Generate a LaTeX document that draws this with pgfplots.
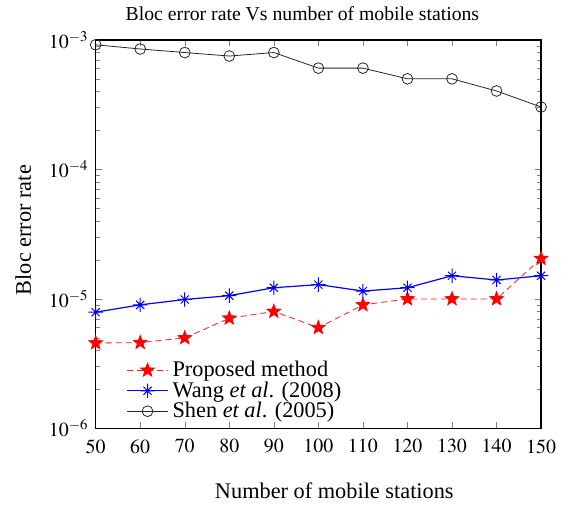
\documentclass[border=0pt]{standalone}
\usepackage{mathptmx}
\usepackage{pgfplots}
\pgfplotsset{compat=1.18}
\usepackage{fontspec}
\setmainfont{Liberation Serif}
\pgfdeclareplotmark{fstar}{%
  \pgfpathmoveto{\pgfpointpolar{90}{\pgfplotmarksize}}%
  \pgfpathlineto{\pgfpointpolar{126}{0.42\pgfplotmarksize}}%
  \pgfpathlineto{\pgfpointpolar{162}{\pgfplotmarksize}}%
  \pgfpathlineto{\pgfpointpolar{198}{0.42\pgfplotmarksize}}%
  \pgfpathlineto{\pgfpointpolar{234}{\pgfplotmarksize}}%
  \pgfpathlineto{\pgfpointpolar{270}{0.42\pgfplotmarksize}}%
  \pgfpathlineto{\pgfpointpolar{306}{\pgfplotmarksize}}%
  \pgfpathlineto{\pgfpointpolar{342}{0.42\pgfplotmarksize}}%
  \pgfpathlineto{\pgfpointpolar{18}{\pgfplotmarksize}}%
  \pgfpathlineto{\pgfpointpolar{54}{0.42\pgfplotmarksize}}%
  \pgfpathclose
  \pgfusepathqfillstroke}
\pgfdeclareplotmark{ast8}{%
  \pgfpathmoveto{\pgfqpoint{-\pgfplotmarksize}{0pt}}%
  \pgfpathlineto{\pgfqpoint{\pgfplotmarksize}{0pt}}%
  \pgfpathmoveto{\pgfqpoint{0pt}{-\pgfplotmarksize}}%
  \pgfpathlineto{\pgfqpoint{0pt}{\pgfplotmarksize}}%
  \pgfpathmoveto{\pgfpointpolar{45}{0.8\pgfplotmarksize}}%
  \pgfpathlineto{\pgfpointpolar{225}{0.8\pgfplotmarksize}}%
  \pgfpathmoveto{\pgfpointpolar{135}{0.8\pgfplotmarksize}}%
  \pgfpathlineto{\pgfpointpolar{315}{0.8\pgfplotmarksize}}%
  \pgfusepathqstroke}
\begin{document}
\begin{tikzpicture}[x=1pt,y=1pt]
\begin{axis}[
  scale only axis,
  width=223.5pt, height=195pt,
  ymode=log,
  xmin=50, xmax=150, ymin=1e-6, ymax=1e-3,
  xtick={50,60,...,150},
  ytick={1e-6,1e-5,1e-4,1e-3},
  tick align=inside,
  ticks=both,
  tick pos=both,
  major tick length=3pt,
  minor tick length=2pt,
  axis line style={line width=0.7pt},
  tick label style={font=\fontsize{10}{11}\selectfont},
  xticklabel style={yshift=-2pt},
  title={Bloc error rate Vs number of mobile stations},
  title style={font=\fontsize{9.9}{11}\selectfont, yshift=0pt, xshift=-8pt},
  xlabel={Number of mobile stations},
  ylabel={Bloc error rate},
  label style={font=\fontsize{11.2}{12}\selectfont},
  xlabel style={yshift=-8pt, xshift=8pt},
  ylabel style={yshift=2pt, xshift=2pt},
  legend style={draw=none, fill=none, font=\fontsize{11.2}{12}\selectfont,
    at={(rel axis cs:0.055,0.195)}, anchor=north west, row sep=-3pt},
  legend cell align=left,
  legend image code/.code={%
    \draw[mark repeat=2,mark phase=2] plot coordinates {(0cm,0cm) (0.36cm,0cm) (0.72cm,0cm)};},
  clip=false,
]
\addplot[red!90!white, densely dashed, mark=fstar, mark size=3.6pt,
  mark options={solid, fill=red, draw=red}] coordinates {
 (50,4.57e-6) (60,4.6e-6) (70,5.0e-6) (80,7.1e-6) (90,8.0e-6) (100,6.0e-6)
 (110,9.0e-6) (120,1.0e-5) (130,1.0e-5) (140,1.0e-5) (150,2.05e-5)};
\addlegendentry{Proposed method}
\addplot[blue, solid, line width=0.6pt, mark=ast8, mark size=3.6pt, mark options={solid, line width=0.5pt}] coordinates {
 (50,7.9e-6) (60,9.0e-6) (70,9.9e-6) (80,1.06e-5) (90,1.22e-5) (100,1.29e-5)
 (110,1.15e-5) (120,1.22e-5) (130,1.51e-5) (140,1.40e-5) (150,1.51e-5)};
\addlegendentry{Wang \textit{et al}. (2008)}
\addplot[black!85, solid, mark=o, mark size=2.7pt] coordinates {
 (50,9.16e-4) (60,8.5e-4) (70,7.98e-4) (80,7.5e-4) (90,7.98e-4) (100,6.05e-4)
 (110,6.05e-4) (120,5.0e-4) (130,5.0e-4) (140,4.03e-4) (150,3.03e-4)};
\addlegendentry{Shen \textit{et al}. (2005)}
\end{axis}
\path (-48pt,0) (236pt,0);
\end{tikzpicture}
\end{document}
